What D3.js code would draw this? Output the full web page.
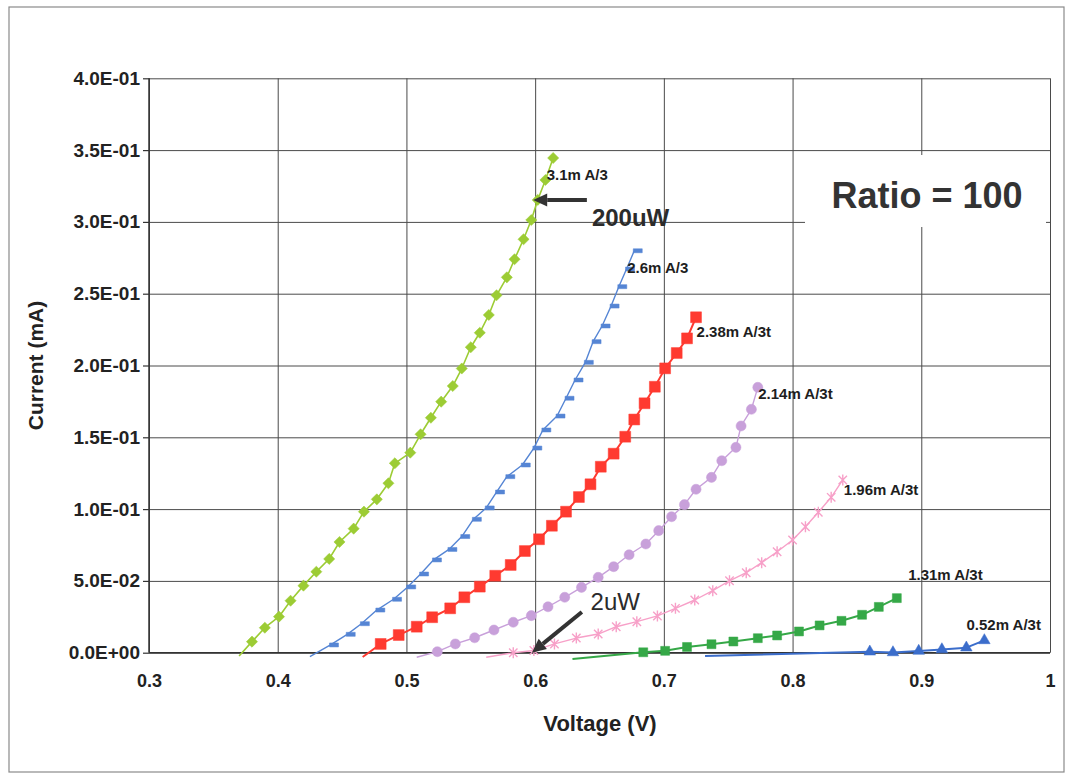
<!DOCTYPE html>
<html>
<head>
<meta charset="utf-8">
<script src="https://cdn.jsdelivr.net/npm/d3@7"></script>
<style>
body { margin: 0; background: #fff; }
text { font-family: "Liberation Sans", Arial, sans-serif; }
</style>
</head>
<body>
<div id="wrapper"></div>
<script>
// tick labels
const xTicks = [0.3, 0.4, 0.5, 0.6, 0.7, 0.8, 0.9, 1.0];
const xTickLabels = ["0.3", "0.4", "0.5", "0.6", "0.7", "0.8", "0.9", "1"];
const yTicks = [0, 0.05, 0.1, 0.15, 0.2, 0.25, 0.3, 0.35, 0.4];
const yTickLabels = ["0.0E+00", "5.0E-02", "1.0E-01", "1.5E-01", "2.0E-01", "2.5E-01", "3.0E-01", "3.5E-01", "4.0E-01"];

// series: [voltage (V), current (mA)]
const greenDiamonds = [[0.370,-0.0023],[0.380,0.0077],[0.390,0.0174],[0.401,0.0251],[0.410,0.0362],[0.420,0.0467],[0.430,0.0564],[0.440,0.0653],[0.448,0.0771],[0.459,0.0864],[0.467,0.0982],[0.477,0.1068],[0.486,0.1180],[0.491,0.1319],[0.503,0.1393],[0.511,0.1521],[0.519,0.1636],[0.527,0.1748],[0.536,0.1857],[0.543,0.1979],[0.550,0.2127],[0.557,0.2228],[0.564,0.2352],[0.570,0.2489],[0.578,0.2614],[0.584,0.2740],[0.591,0.2879],[0.597,0.3013],[0.602,0.3153],[0.608,0.3292],[0.614,0.3445]];
const blueDashes = [[0.425,-0.0028],[0.441,0.0054],[0.454,0.0128],[0.465,0.0202],[0.477,0.0297],[0.490,0.0372],[0.501,0.0458],[0.511,0.0548],[0.521,0.0646],[0.533,0.0719],[0.543,0.0809],[0.552,0.0929],[0.562,0.1008],[0.570,0.1119],[0.578,0.1226],[0.590,0.1307],[0.599,0.1425],[0.606,0.1551],[0.617,0.1648],[0.624,0.1772],[0.631,0.1899],[0.639,0.2022],[0.645,0.2166],[0.652,0.2275],[0.659,0.2414],[0.665,0.2549],[0.671,0.2672],[0.677,0.2799]];
const redSquares = [[0.466,-0.0030],[0.480,0.0061],[0.494,0.0123],[0.508,0.0181],[0.520,0.0247],[0.534,0.0309],[0.545,0.0386],[0.557,0.0460],[0.569,0.0536],[0.581,0.0611],[0.592,0.0708],[0.603,0.0790],[0.613,0.0884],[0.624,0.0982],[0.634,0.1084],[0.643,0.1173],[0.651,0.1295],[0.661,0.1386],[0.670,0.1504],[0.677,0.1624],[0.685,0.1737],[0.693,0.1852],[0.701,0.1980],[0.710,0.2087],[0.718,0.2189],[0.725,0.2336]];
const lavenderCircles = [[0.508,-0.0032],[0.524,0.0007],[0.538,0.0061],[0.553,0.0104],[0.568,0.0158],[0.583,0.0212],[0.597,0.0258],[0.610,0.0320],[0.623,0.0386],[0.636,0.0455],[0.649,0.0525],[0.661,0.0599],[0.673,0.0682],[0.686,0.0757],[0.696,0.0850],[0.706,0.0947],[0.716,0.1031],[0.725,0.1138],[0.737,0.1221],[0.745,0.1337],[0.756,0.1430],[0.760,0.1579],[0.768,0.1695],[0.773,0.1848]];
const pinkStars = [[0.562,-0.0032],[0.583,0.0000],[0.599,0.0015],[0.615,0.0061],[0.632,0.0102],[0.649,0.0130],[0.663,0.0181],[0.679,0.0216],[0.695,0.0256],[0.709,0.0309],[0.724,0.0367],[0.738,0.0432],[0.751,0.0501],[0.764,0.0557],[0.776,0.0627],[0.788,0.0703],[0.800,0.0785],[0.810,0.0877],[0.820,0.0978],[0.830,0.1082],[0.839,0.1203]];
const greenSquares = [[0.629,-0.0044],[0.684,0.0003],[0.701,0.0013],[0.718,0.0040],[0.737,0.0059],[0.754,0.0078],[0.773,0.0101],[0.788,0.0120],[0.805,0.0148],[0.821,0.0190],[0.838,0.0222],[0.854,0.0264],[0.867,0.0319],[0.881,0.0380]];
const blueTriangles = [[0.732,-0.0023],[0.860,0.0007],[0.878,0.0002],[0.898,0.0012],[0.916,0.0023],[0.935,0.0035],[0.949,0.0086]];

const seriesLabels = ["3.1m A/3", "2.6m A/3", "2.38m A/3t", "2.14m A/3t", "1.96m A/3t", "1.31m A/3t", "0.52m A/3t"];
const labelAnchors = [[0.609,0.3327],[0.6715,0.2684],[0.7254,0.2235],[0.7733,0.1806],[0.8398,0.1138],[0.8898,0.0541],[0.9351,0.0193]];

// annotations: arrow start, arrow tip, text anchor (data units)
const noteTexts = ["200uW", "2uW"];
const noteArrows = [[[0.6402,0.3153],[0.5985,0.3153]], [[0.6363,0.0283],[0.5975,0.0000]]];
const noteAnchors = [[0.6441,0.2971],[0.6431,0.0297]];
const ratioText = "Ratio = 100";

const dims = { width: 1072, height: 774, left: 149, right: 1050, top: 78.3, bottom: 652.7 };

const x = d3.scaleLinear().domain([0.3, 1.0]).range([dims.left, dims.right]);
const y = d3.scaleLinear().domain([0, 0.4]).range([dims.bottom, dims.top]);

const svg = d3.select("#wrapper").append("svg")
	.attr("width", dims.width)
	.attr("height", dims.height);

svg.append("rect")
	.attr("x", 9).attr("y", 7)
	.attr("width", 1055).attr("height", 765)
	.attr("fill", "#fff")
	.attr("stroke", "#8a8a8a")
	.attr("stroke-width", 1.2);

// grid
const gridX = svg.append("g")
	.attr("transform", `translate(0,${dims.bottom})`)
	.call(d3.axisBottom(x).tickValues(xTicks).tickSize(-(dims.bottom - dims.top)).tickFormat(""));
const gridY = svg.append("g")
	.attr("transform", `translate(${dims.left},0)`)
	.call(d3.axisLeft(y).tickValues(yTicks).tickSize(-(dims.right - dims.left)).tickFormat(""));
[gridX, gridY].forEach(g => {
	g.select(".domain").remove();
	g.selectAll("line").attr("stroke", "#4a4a4a").attr("stroke-width", 1);
});

// Ratio box
svg.append("rect")
	.attr("x", 805).attr("y", 155)
	.attr("width", 241).attr("height", 72)
	.attr("fill", "#fff");
svg.append("text")
	.attr("x", 927).attr("y", 208)
	.attr("text-anchor", "middle")
	.attr("font-size", "36px")
	.attr("font-weight", "bold")
	.attr("fill", "#333")
	.text(ratioText);

// axes
const yAxis = svg.append("g")
	.attr("transform", `translate(${dims.left},0)`)
	.call(d3.axisLeft(y).tickValues(yTicks).tickSize(6).tickPadding(3).tickFormat((d, i) => yTickLabels[i]));
yAxis.select(".domain").remove();
yAxis.selectAll("line").attr("stroke", "#333").attr("stroke-width", 1.2);
yAxis.selectAll("text")
	.attr("font-family", "Liberation Sans, Arial, sans-serif")
	.attr("font-size", "19px").attr("font-weight", "bold").attr("fill", "#222");

const xAxis = svg.append("g")
	.attr("transform", `translate(0,${dims.bottom})`)
	.call(d3.axisBottom(x).tickValues(xTicks).tickSize(0).tickPadding(22).tickFormat((d, i) => xTickLabels[i]));
xAxis.select(".domain").remove();
xAxis.selectAll("text")
	.attr("font-family", "Liberation Sans, Arial, sans-serif")
	.attr("font-size", "18px").attr("font-weight", "bold").attr("fill", "#222");

svg.append("line")
	.attr("x1", dims.left).attr("x2", dims.left)
	.attr("y1", dims.top).attr("y2", dims.bottom)
	.attr("stroke", "#333").attr("stroke-width", 1.5);
svg.append("line")
	.attr("x1", dims.left).attr("x2", dims.right)
	.attr("y1", dims.bottom).attr("y2", dims.bottom)
	.attr("stroke", "#333").attr("stroke-width", 1.6);

svg.append("text")
	.attr("transform", `translate(43,${(dims.top + dims.bottom) / 2}) rotate(-90)`)
	.attr("text-anchor", "middle")
	.attr("font-size", "21px").attr("font-weight", "bold").attr("fill", "#222")
	.text("Current (mA)");
svg.append("text")
	.attr("x", 600).attr("y", 731)
	.attr("text-anchor", "middle")
	.attr("font-size", "22px").attr("font-weight", "bold").attr("fill", "#222")
	.text("Voltage (V)");

// series
const series = [
	{ data: greenDiamonds, color: "#9ccc34", width: 1.6, marker: "diamond" },
	{ data: blueDashes, color: "#5585d4", width: 1.4, marker: "dash" },
	{ data: redSquares, color: "#ff3a30", width: 2, marker: "bigSquare" },
	{ data: lavenderCircles, color: "#c8a0da", width: 1.4, marker: "circle" },
	{ data: pinkStars, color: "#f7a0c8", width: 1.4, marker: "star" },
	{ data: greenSquares, color: "#35a847", width: 2, marker: "square" },
	{ data: blueTriangles, color: "#3b6dcb", width: 2, marker: "triangle" }
];

const line = d3.line().x(d => x(d[0])).y(d => y(d[1]));

const markerPath = {
	diamond: d3.symbol(d3.symbolSquare, 62)(),
	bigSquare: d3.symbol(d3.symbolSquare, 118)(),
	square: d3.symbol(d3.symbolSquare, 80)(),
	circle: d3.symbol(d3.symbolCircle, 80)(),
	triangle: d3.symbol(d3.symbolTriangle, 58)(),
	star: "M-4.2,-4.2L4.2,4.2M-4.2,4.2L4.2,-4.2M0,-5.5L0,5.5",
	dash: "M-1,-2H8V2H-1Z"
};

series.forEach(s => {
	const g = svg.append("g");
	g.append("path")
		.attr("d", line(s.data))
		.attr("fill", "none")
		.attr("stroke", s.color)
		.attr("stroke-width", s.width)
		.attr("stroke-linejoin", "round");
	g.selectAll("path.mk")
		.data(s.data.filter(d => d[1] >= 0))
		.enter()
		.append("path")
		.attr("class", "mk")
		.attr("d", markerPath[s.marker])
		.attr("transform", d => `translate(${x(d[0])},${y(d[1])})` + (s.marker === "diamond" ? " rotate(45)" : ""))
		.attr("fill", s.marker === "star" ? "none" : s.color)
		.attr("stroke", s.color)
		.attr("stroke-width", s.marker === "star" ? 1.4 : 0.5);
});

// data labels
svg.append("g").selectAll("text")
	.data(seriesLabels)
	.enter()
	.append("text")
	.attr("x", (d, i) => x(labelAnchors[i][0]))
	.attr("y", (d, i) => y(labelAnchors[i][1]))
	.attr("dy", "0.36em")
	.attr("font-size", "15px")
	.attr("font-weight", "bold")
	.attr("fill", "#1e1e1e")
	.text(d => d);

// annotations
noteArrows.forEach(a => {
	const x0 = x(a[0][0]), y0 = y(a[0][1]);
	const x1 = x(a[1][0]), y1 = y(a[1][1]);
	const ang = Math.atan2(y1 - y0, x1 - x0);
	const headLen = 14, headHalf = 6.5;
	const bx = x1 - headLen * Math.cos(ang), by = y1 - headLen * Math.sin(ang);
	svg.append("line")
		.attr("x1", x0).attr("y1", y0)
		.attr("x2", bx).attr("y2", by)
		.attr("stroke", "#333").attr("stroke-width", 4);
	const px = -Math.sin(ang), py = Math.cos(ang);
	svg.append("path")
		.attr("d", `M${x1},${y1}L${bx + px * headHalf},${by + py * headHalf}L${bx - px * headHalf},${by - py * headHalf}Z`)
		.attr("fill", "#333");
});

svg.append("g").selectAll("text")
	.data(noteTexts)
	.enter()
	.append("text")
	.attr("x", (d, i) => x(noteAnchors[i][0]))
	.attr("y", (d, i) => y(noteAnchors[i][1]))
	.attr("font-size", "24px")
	.attr("font-weight", (d, i) => i === 0 ? "bold" : "normal")
	.attr("fill", "#2b2b2b")
	.text(d => d);
</script>
</body>
</html>
